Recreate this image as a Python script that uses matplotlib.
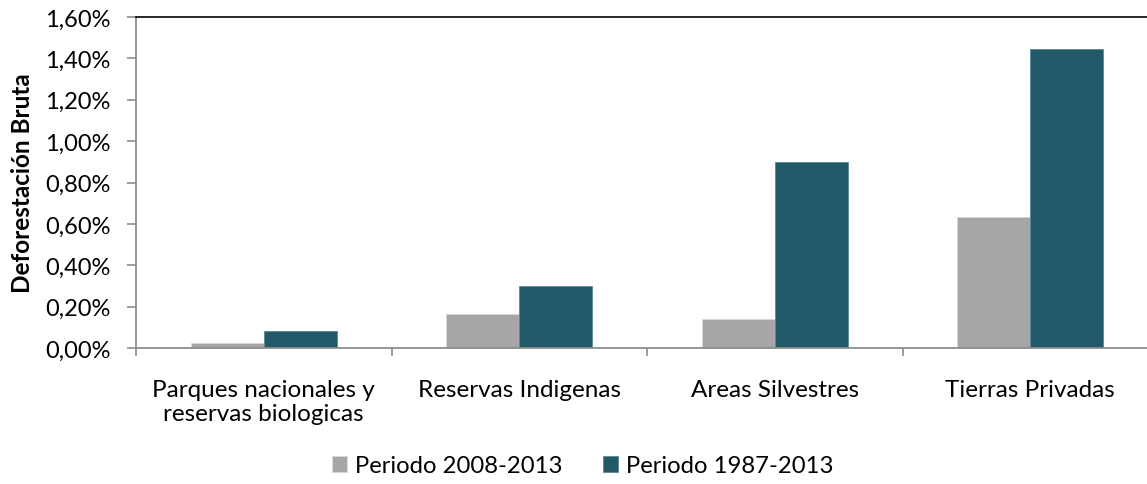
import matplotlib
matplotlib.use("Agg")
import matplotlib.pyplot as plt
import numpy as np
from matplotlib.ticker import FuncFormatter, FixedLocator

categories = ["Parques nacionales y\nreservas biologicas", "Reservas Indigenas",
              "Areas Silvestres", "Tierras Privadas"]
series_names = ["Periodo 2008-2013", "Periodo 1987-2013"]
vals_2008_2013 = [0.025, 0.163, 0.140, 0.633]
vals_1987_2013 = [0.082, 0.300, 0.899, 1.445]
colors = ["#A6A6A6", "#215968"]

plt.rcParams['font.family'] = ['Lato', 'DejaVu Sans']

W, H = 1147, 485
fig = plt.figure(figsize=(W/100, H/100), dpi=100)
left, right, top, bottom = 136, 1158, 18, 349
ax = fig.add_axes([left/W, 1 - bottom/H, (right-left)/W, (bottom-top)/H])

x = np.arange(len(categories))
bw = 0.286
ax.bar(x - bw/2, vals_2008_2013, bw, color=colors[0], edgecolor="#D9D9D9", linewidth=0.6, label=series_names[0], zorder=2)
ax.bar(x + bw/2, vals_1987_2013, bw, color=colors[1], edgecolor="#5A8A96", linewidth=0.6, label=series_names[1], zorder=2)

ax.set_xlim(-0.5, len(categories) - 0.5)
ax.set_ylim(0, 1.6)
ax.yaxis.set_major_locator(FixedLocator(np.arange(0, 1.61, 0.2)))
ax.yaxis.set_major_formatter(FuncFormatter(lambda v, p: f"{v:.2f}%".replace('.', ',')))

fs = 17.5
ax.set_xticks(x)
ax.set_xticklabels(categories, fontsize=fs, linespacing=1.2)
ax.set_xticks(np.arange(-0.5, len(categories), 1), minor=True)
ax.tick_params(axis='x', which='major', length=0, pad=22)
ax.tick_params(axis='x', which='minor', length=6, color="#8C8C8C", width=1.2)
ax.tick_params(axis='y', length=6.5, color="#8C8C8C", width=1.2, labelsize=17, pad=12)

for s in ['left', 'bottom']:
    ax.spines[s].set_color("#8C8C8C")
    ax.spines[s].set_linewidth(1.3)
ax.spines['top'].set_color("black")
ax.spines['top'].set_linewidth(1.2)
ax.spines['right'].set_visible(False)

ax.set_ylabel("Deforestación Bruta", fontsize=fs, fontweight='bold', labelpad=8)

leg = fig.legend(loc='center', bbox_to_anchor=(583/W, 1 - 467/H), ncol=2, frameon=False,
                 fontsize=17.2, handlelength=0.6, handleheight=0.6, handletextpad=0.35,
                 columnspacing=1.7)

fig.savefig("out.png", dpi=100)
